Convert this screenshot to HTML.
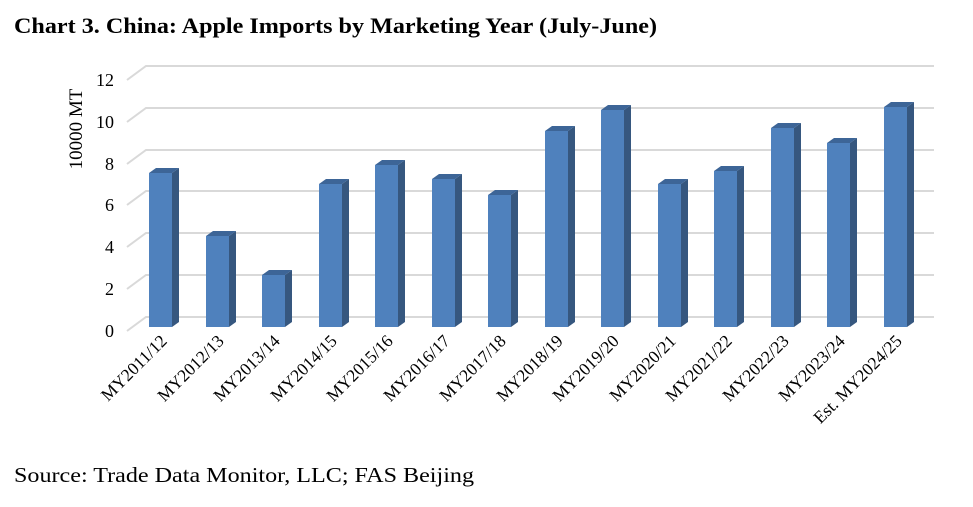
<!DOCTYPE html>
<html><head><style>
body{margin:0;background:#fff;width:973px;height:502px;overflow:hidden}
</style></head><body>
<svg width="973" height="502" xmlns="http://www.w3.org/2000/svg" font-family="Liberation Serif, serif">
<text x="14" y="33" font-size="22" font-weight="bold" textLength="643" lengthAdjust="spacingAndGlyphs">Chart 3. China: Apple Imports by Marketing Year (July-June)</text>
<g stroke="#d9d9d9" stroke-width="2" fill="none">
<polyline points="127,80 146,66 934,66"/>
<polyline points="127,122 146,108 934,108"/>
<polyline points="127,164 146,150 934,150"/>
<polyline points="127,205 146,191 934,191"/>
<polyline points="127,247 146,233 934,233"/>
<polyline points="127,289 146,275 934,275"/>
<polyline points="127,331 146,317 934,317"/>
</g>
<g font-size="18" text-anchor="end">
<text x="114" y="86">12</text><text x="114" y="128">10</text><text x="114" y="170">8</text>
<text x="114" y="211">6</text><text x="114" y="253">4</text><text x="114" y="295">2</text><text x="114" y="337">0</text>
</g>
<text transform="translate(82,129) rotate(-90)" font-size="19" text-anchor="middle">10000 MT</text>
<g>
<polygon points="172,173 179,168 179,322 172,327" fill="#36577f"/><polygon points="149,173 156,168 179,168 172,173" fill="#3d6597"/><rect x="149" y="173" width="23" height="154" fill="#4f81bd"/>
<polygon points="229,236 236,231 236,322 229,327" fill="#36577f"/><polygon points="206,236 213,231 236,231 229,236" fill="#3d6597"/><rect x="206" y="236" width="23" height="91" fill="#4f81bd"/>
<polygon points="285,275 292,270 292,322 285,327" fill="#36577f"/><polygon points="262,275 269,270 292,270 285,275" fill="#3d6597"/><rect x="262" y="275" width="23" height="52" fill="#4f81bd"/>
<polygon points="342,184 349,179 349,322 342,327" fill="#36577f"/><polygon points="319,184 326,179 349,179 342,184" fill="#3d6597"/><rect x="319" y="184" width="23" height="143" fill="#4f81bd"/>
<polygon points="398,165 405,160 405,322 398,327" fill="#36577f"/><polygon points="375,165 382,160 405,160 398,165" fill="#3d6597"/><rect x="375" y="165" width="23" height="162" fill="#4f81bd"/>
<polygon points="455,179 462,174 462,322 455,327" fill="#36577f"/><polygon points="432,179 439,174 462,174 455,179" fill="#3d6597"/><rect x="432" y="179" width="23" height="148" fill="#4f81bd"/>
<polygon points="511,195 518,190 518,322 511,327" fill="#36577f"/><polygon points="488,195 495,190 518,190 511,195" fill="#3d6597"/><rect x="488" y="195" width="23" height="132" fill="#4f81bd"/>
<polygon points="568,131 575,126 575,322 568,327" fill="#36577f"/><polygon points="545,131 552,126 575,126 568,131" fill="#3d6597"/><rect x="545" y="131" width="23" height="196" fill="#4f81bd"/>
<polygon points="624,110 631,105 631,322 624,327" fill="#36577f"/><polygon points="601,110 608,105 631,105 624,110" fill="#3d6597"/><rect x="601" y="110" width="23" height="217" fill="#4f81bd"/>
<polygon points="681,184 688,179 688,322 681,327" fill="#36577f"/><polygon points="658,184 665,179 688,179 681,184" fill="#3d6597"/><rect x="658" y="184" width="23" height="143" fill="#4f81bd"/>
<polygon points="737,171 744,166 744,322 737,327" fill="#36577f"/><polygon points="714,171 721,166 744,166 737,171" fill="#3d6597"/><rect x="714" y="171" width="23" height="156" fill="#4f81bd"/>
<polygon points="794,128 801,123 801,322 794,327" fill="#36577f"/><polygon points="771,128 778,123 801,123 794,128" fill="#3d6597"/><rect x="771" y="128" width="23" height="199" fill="#4f81bd"/>
<polygon points="850,143 857,138 857,322 850,327" fill="#36577f"/><polygon points="827,143 834,138 857,138 850,143" fill="#3d6597"/><rect x="827" y="143" width="23" height="184" fill="#4f81bd"/>
<polygon points="907,107 914,102 914,322 907,327" fill="#36577f"/><polygon points="884,107 891,102 914,102 907,107" fill="#3d6597"/><rect x="884" y="107" width="23" height="220" fill="#4f81bd"/>
</g>
<g font-size="17.5" text-anchor="end">
<text transform="translate(168,342) rotate(-45)">MY2011/12</text>
<text transform="translate(225,342) rotate(-45)">MY2012/13</text>
<text transform="translate(281,342) rotate(-45)">MY2013/14</text>
<text transform="translate(338,342) rotate(-45)">MY2014/15</text>
<text transform="translate(394,342) rotate(-45)">MY2015/16</text>
<text transform="translate(451,342) rotate(-45)">MY2016/17</text>
<text transform="translate(507,342) rotate(-45)">MY2017/18</text>
<text transform="translate(564,342) rotate(-45)">MY2018/19</text>
<text transform="translate(620,342) rotate(-45)">MY2019/20</text>
<text transform="translate(677,342) rotate(-45)">MY2020/21</text>
<text transform="translate(733,342) rotate(-45)">MY2021/22</text>
<text transform="translate(790,342) rotate(-45)">MY2022/23</text>
<text transform="translate(846,342) rotate(-45)">MY2023/24</text>
<text transform="translate(903,342) rotate(-45)">Est. MY2024/25</text>
</g>
<text x="14" y="482" font-size="21" textLength="460" lengthAdjust="spacingAndGlyphs">Source: Trade Data Monitor, LLC; FAS Beijing</text>
</svg>
</body></html>
